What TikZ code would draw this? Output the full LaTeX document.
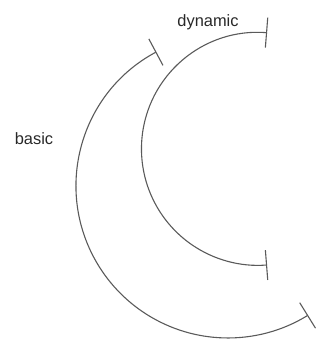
\documentclass[tikz,border=0pt]{standalone}
\usepackage{fontspec}
\setmainfont{Liberation Sans}
\usetikzlibrary{arrows.meta}
\definecolor{linegray}{RGB}{90, 90, 90}
\definecolor{textgray}{RGB}{40, 40, 40}

\begin{document}
\begin{tikzpicture}[
          x=1pt, y=1pt,
          span/.style={{Bar[width=30pt]}-{Bar[width=30pt]}, line width=1.1pt, color=linegray},
          lbl/.style={font=\fontsize{16.4}{19}\selectfont, color=textgray, anchor=base, inner sep=0pt}
        ]
        \useasboundingbox (0,0) rectangle (329,343);
        % Arc ends
        \coordinate (dyn-top) at (267.1,310.3);
        \coordinate (bas-top) at (156.4,291.1);
        % Arcs
        \draw[span] (dyn-top) arc[start angle=85.5, end angle=274.5, radius=116.5];
        \draw[span] (bas-top) arc[start angle=118.1, end angle=301.8, radius=152];

        % Labels
        \node[lbl] (dynamic) at (208,316.3) {dynamic};
        \node[lbl] (basic) at (34,198) {basic};
      \end{tikzpicture}
\end{document}
